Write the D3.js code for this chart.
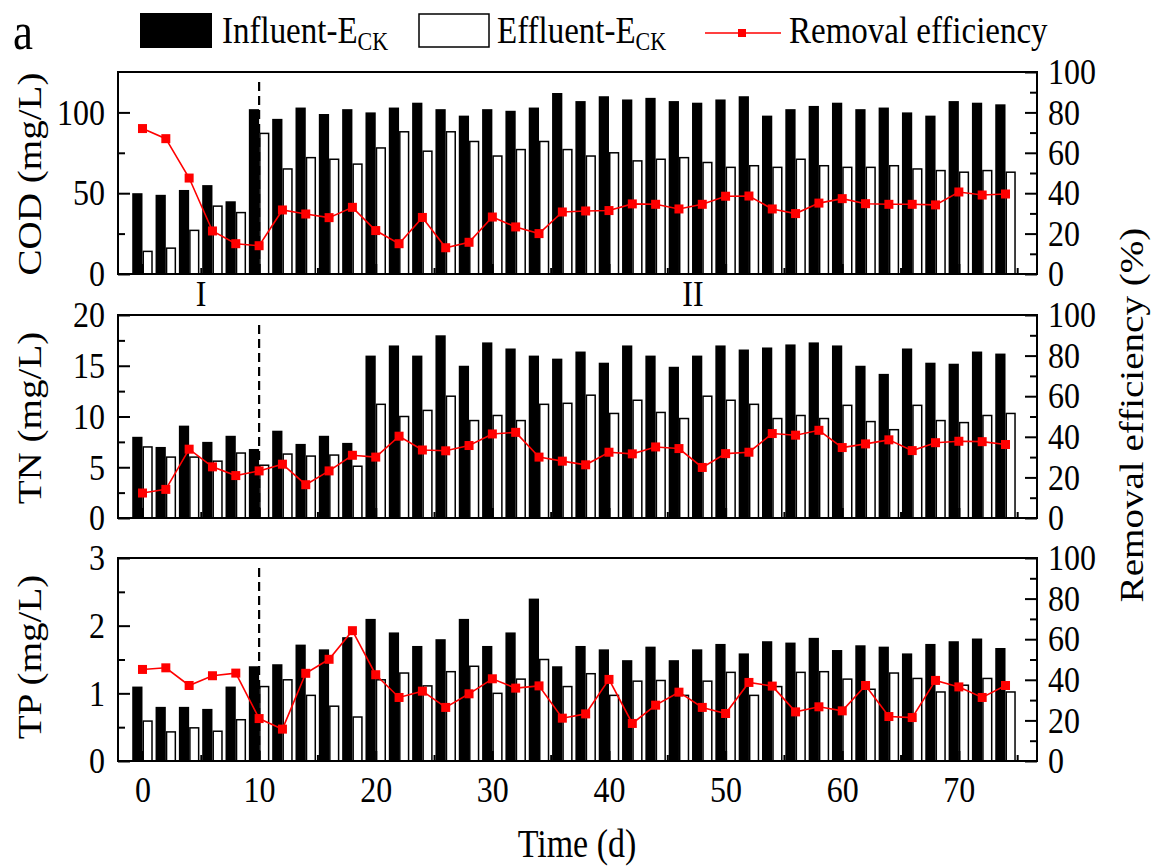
<!DOCTYPE html>
<html>
<head>
<meta charset="utf-8">
<script src="https://cdn.jsdelivr.net/npm/d3@7"></script>
<style>
  body { margin: 0; background: #fff; }
</style>
</head>
<body>
<svg id="chart"></svg>
<script>
// Sampling days
let days = [0, 2, 4, 6, 8, 10, 12, 14, 16, 18, 20, 22, 24, 26, 28, 30, 32, 34, 36,
            38, 40, 42, 44, 46, 48, 50, 52, 54, 56, 58, 60, 62, 64, 66, 68, 70, 72, 74];

// COD (mg/L) and removal (%)
let codIn  = [50, 49, 52, 55, 45, 102, 96, 103, 99, 102, 100, 103, 106, 102, 98, 102, 101, 103, 112,
              107, 110, 108, 109, 107, 106, 108, 110, 98, 102, 104, 106, 102, 103, 100, 98, 107, 106, 105];
let codOut = [14, 16, 27, 42, 38, 87, 65, 72, 71, 68, 78, 88, 76, 88, 82, 73, 77, 82, 77,
              73, 75, 70, 71, 72, 69, 66, 67, 66, 71, 67, 66, 66, 67, 65, 64, 63, 64, 63];
let codRe  = [72, 67, 47.5, 21.3, 15, 14, 31.7, 29.7, 27.9, 33, 21.5, 15, 28, 13, 15.7, 28.2, 23.3, 20, 30.7,
              31.2, 31.4, 34.7, 34.5, 32.2, 34.5, 38.5, 38.6, 32.2, 29.9, 35.1, 37.3, 34.8, 34.5, 34.5, 34.2, 40.6, 39.1, 39.6];

// TN (mg/L) and removal (%)
let tnIn  = [8.0, 7.0, 9.1, 7.5, 8.1, 6.8, 8.6, 7.3, 8.1, 7.4, 16.0, 17.0, 16.0, 18.0, 15.0, 17.3, 16.7, 16.0, 15.7,
             16.4, 15.3, 17.0, 16.0, 14.9, 16.0, 17.0, 16.6, 16.8, 17.1, 17.3, 17.0, 15.0, 14.2, 16.7, 15.3, 15.2, 16.4, 16.2];
let tnOut = [7.0, 6.0, 6.0, 5.6, 6.4, 5.2, 6.3, 6.1, 6.2, 5.1, 11.2, 10.0, 10.6, 12.0, 9.6, 10.1, 9.6, 11.2, 11.3,
             12.1, 10.3, 11.6, 10.4, 9.8, 12.0, 11.6, 11.2, 9.8, 10.1, 9.8, 11.1, 9.5, 8.7, 11.1, 9.6, 9.4, 10.1, 10.3];
let tnRe  = [12.3, 14.1, 33.9, 25.2, 20.9, 23.2, 26.5, 16.4, 23.2, 30.9, 30.0, 40.3, 33.5, 33.1, 35.7, 41.4, 42.2, 30.0, 28.0,
             26.2, 32.4, 31.6, 35.0, 34.2, 24.9, 31.7, 32.4, 41.6, 40.8, 43.2, 34.7, 36.5, 38.5, 33.2, 37.1, 37.8, 37.6, 36.2];

// TP (mg/L) and removal (%)
let tpIn  = [1.10, 0.80, 0.80, 0.77, 1.10, 1.40, 1.43, 1.72, 1.65, 1.83, 2.10, 1.90, 1.70, 1.80, 2.10, 1.70, 1.90, 2.40, 1.40,
             1.70, 1.65, 1.49, 1.69, 1.49, 1.65, 1.73, 1.59, 1.77, 1.75, 1.82, 1.64, 1.71, 1.69, 1.59, 1.73, 1.77, 1.81, 1.67];
let tpOut = [0.59, 0.43, 0.49, 0.44, 0.61, 1.10, 1.20, 0.97, 0.81, 0.65, 1.20, 1.30, 1.11, 1.32, 1.40, 1.00, 1.21, 1.50, 1.10,
             1.29, 0.97, 1.18, 1.19, 0.97, 1.18, 1.31, 0.97, 1.10, 1.31, 1.32, 1.21, 1.06, 1.30, 1.22, 1.02, 1.12, 1.22, 1.02];
let tpRe  = [45.1, 45.9, 37.2, 42.0, 43.3, 20.9, 15.7, 43.2, 50.1, 64.2, 42.5, 31.3, 34.4, 26.4, 33.1, 40.5, 35.9, 37.0, 21.1,
             23.2, 40.2, 18.5, 27.5, 33.9, 26.4, 23.4, 38.7, 36.9, 24.2, 26.7, 24.7, 37.2, 21.9, 21.4, 39.7, 36.5, 31.3, 37.2];

// Tick values
let xTicks = [0, 10, 20, 30, 40, 50, 60, 70];
let xMinor = [5, 15, 25, 35, 45, 55, 65, 75];
let pctTicks = [0, 20, 40, 60, 80, 100];
let pctMinor = [10, 30, 50, 70, 90];
let codTicks = [0, 50, 100], codMinor = [25, 75];
let tnTicks = [0, 5, 10, 15, 20], tnMinor = [2.5, 7.5, 12.5, 17.5];
let tpTicks = [0, 1, 2, 3], tpMinor = [0.5, 1.5, 2.5];
let phaseSplit = 10;

let width = 1151, height = 866;
let left = 118, right = 1037;
let tickFont = 32, titleFont = 34, stretch = 1.15;
let serif = "Liberation Serif";

let svg = d3.select("#chart").attr("width", width).attr("height", height);

let x = d3.scaleLinear().domain([-2.1, 76.7]).range([left, right]);
let barW = x(0.88) - x(0);

let panels = [
    {inflow: codIn, outflow: codOut, removal: codRe, max: 125, ticks: codTicks, minor: codMinor,
     top: 72, bottom: 274, title: "COD (mg/L)", titleY: 174},
    {inflow: tnIn, outflow: tnOut, removal: tnRe, max: 20, ticks: tnTicks, minor: tnMinor,
     top: 315, bottom: 518, title: "TN (mg/L)", titleY: 418},
    {inflow: tpIn, outflow: tpOut, removal: tpRe, max: 3, ticks: tpTicks, minor: tpMinor,
     top: 558, bottom: 761, title: "TP (mg/L)", titleY: 657}
];

// stretched text, the source picture is taller than it is wide
function hText(g, tx, ty, str, size, anchor) {
    return g.append("text")
        .attr("transform", `translate(${tx},${ty}) scale(1,${stretch})`)
        .attr("text-anchor", anchor || "start")
        .attr("font-family", serif)
        .attr("font-size", size)
        .text(str);
}
function vText(g, tx, ty, str, size) {
    return g.append("text")
        .attr("transform", `translate(${tx},${ty}) rotate(-90) scale(${stretch},1)`)
        .attr("text-anchor", "middle")
        .attr("font-family", serif)
        .attr("font-size", size)
        .text(str);
}
function styleAxis(g) {
    g.attr("font-family", serif).attr("font-size", tickFont);
    g.select(".domain").remove();
    g.selectAll("line").attr("stroke", "#000").attr("stroke-width", 2);
    g.selectAll("text")
        .attr("fill", "#000")
        .attr("transform", `scale(1,${stretch})`);
}

panels.forEach(function(p, idx) {
    let y = d3.scaleLinear().domain([0, p.max]).range([p.bottom, p.top]);
    let yR = d3.scaleLinear().domain([0, 100]).range([p.bottom, p.top]);
    let g = svg.append("g");

    // Influent bars (black, left of the day)
    g.selectAll(".in").data(days).enter().append("rect")
        .attr("x", d => x(d) - barW)
        .attr("y", (d, i) => y(p.inflow[i]))
        .attr("width", barW)
        .attr("height", (d, i) => p.bottom - y(p.inflow[i]))
        .attr("fill", "#000");

    // Effluent bars (white, right of the day)
    g.selectAll(".out").data(days).enter().append("rect")
        .attr("x", d => x(d) + 0.75)
        .attr("y", (d, i) => y(p.outflow[i]))
        .attr("width", barW - 1.5)
        .attr("height", (d, i) => p.bottom - y(p.outflow[i]))
        .attr("fill", "#fff")
        .attr("stroke", "#000")
        .attr("stroke-width", 1.5);

    // Phase split
    g.append("line")
        .attr("x1", x(phaseSplit)).attr("x2", x(phaseSplit))
        .attr("y1", p.top + 10).attr("y2", p.bottom)
        .attr("stroke", "#000").attr("stroke-width", 2.2)
        .attr("stroke-dasharray", "9,5");

    // Removal efficiency
    let line = d3.line().x(d => x(d)).y((d, i) => yR(p.removal[i]));
    g.append("path").datum(days)
        .attr("d", line)
        .attr("fill", "none")
        .attr("stroke", "#ff0000")
        .attr("stroke-width", 1.6);
    g.selectAll(".mk").data(days).enter().append("rect")
        .attr("x", d => x(d) - 4.5)
        .attr("y", (d, i) => yR(p.removal[i]) - 4.5)
        .attr("width", 9).attr("height", 9)
        .attr("fill", "#ff0000");

    // Axes (ticks pointing inward)
    g.append("g").attr("transform", `translate(${left},0)`)
        .call(d3.axisLeft(y).tickValues(p.ticks).tickFormat(d3.format("~g")).tickSize(-12).tickPadding(13))
        .call(styleAxis);
    g.append("g").attr("transform", `translate(${left},0)`)
        .call(d3.axisLeft(y).tickValues(p.minor).tickFormat("").tickSize(-7))
        .call(styleAxis);
    g.append("g").attr("transform", `translate(${right},0)`)
        .call(d3.axisRight(yR).tickValues(pctTicks).tickSize(-12).tickPadding(11))
        .call(styleAxis);
    g.append("g").attr("transform", `translate(${right},0)`)
        .call(d3.axisRight(yR).tickValues(pctMinor).tickFormat("").tickSize(-7))
        .call(styleAxis);
    let xa = g.append("g").attr("transform", `translate(0,${p.bottom})`)
        .call(d3.axisBottom(x).tickValues(xTicks).tickSize(-10).tickPadding(14)
              .tickFormat(idx === 2 ? d3.format("d") : ""))
        .call(styleAxis);
    xa.selectAll("text").attr("dy", "0.68em");
    g.append("g").attr("transform", `translate(0,${p.bottom})`)
        .call(d3.axisBottom(x).tickValues(xMinor).tickFormat("").tickSize(-6))
        .call(styleAxis);

    // Frame
    g.append("rect")
        .attr("x", left).attr("y", p.top)
        .attr("width", right - left).attr("height", p.bottom - p.top)
        .attr("fill", "none").attr("stroke", "#000").attr("stroke-width", 2);

    vText(g, 41, p.titleY, p.title, titleFont);
});

// Phase labels
hText(svg, 201, 306, "I", tickFont, "middle");
hText(svg, 693, 306, "II", tickFont, "middle");

// Axis titles
hText(svg, 577, 857, "Time (d)", titleFont, "middle");
vText(svg, 1143, 415, "Removal efficiency (%)", titleFont);

// Panel letter and legend
hText(svg, 13, 49, "a", 45);
let legend = svg.append("g");
legend.append("rect").attr("x", 140).attr("y", 13).attr("width", 72).attr("height", 35).attr("fill", "#000");
let t1 = hText(legend, 222, 43, "Influent-E", 33);
t1.append("tspan").attr("dy", 6).attr("font-size", 22).text("CK");
legend.append("rect").attr("x", 419).attr("y", 14).attr("width", 70).attr("height", 33)
    .attr("fill", "#fff").attr("stroke", "#000").attr("stroke-width", 1.5);
let t2 = hText(legend, 497, 43, "Effluent-E", 33);
t2.append("tspan").attr("dy", 6).attr("font-size", 22).text("CK");
legend.append("line").attr("x1", 705).attr("x2", 781).attr("y1", 33).attr("y2", 33)
    .attr("stroke", "#ff0000").attr("stroke-width", 1.6);
legend.append("rect").attr("x", 738).attr("y", 29).attr("width", 8).attr("height", 8).attr("fill", "#ff0000");
hText(legend, 789, 43, "Removal efficiency", 33);
</script>
</body>
</html>
